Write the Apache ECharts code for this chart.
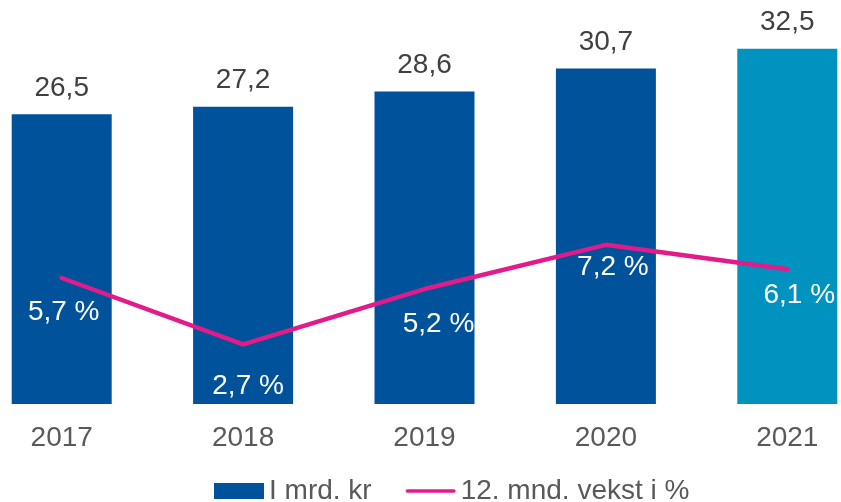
<!DOCTYPE html>
<html>
<head>
<meta charset="utf-8">
<script src="https://cdn.jsdelivr.net/npm/echarts@6/dist/echarts.min.js"></script>
<style>
  html, body { margin: 0; padding: 0; background: #fff; }
  #main { width: 841px; height: 502px; }
</style>
</head>
<body>
<div id="main"></div>
<script>
var years = ['2017', '2018', '2019', '2020', '2021'];
var belop = [26.5, 27.2, 28.6, 30.7, 32.5];      // I mrd. kr
var vekst = [5.7, 2.7, 5.2, 7.2, 6.1];           // 12. mnd. vekst i %

// label nudges for the % labels (px, relative to the point)
var vekstLabelShift = [[2, 34], [5, 42], [14, 35], [7, 22], [12, 26]];

var MORK = '#00529b';
var LYS = '#0093bf';
var ROSA = '#e31b8a';
var fnt = 'Liberation Sans, Arial, sans-serif';

function komma(v, suffix) {
    return String(v.toFixed(1)).replace('.', ',') + (suffix || '');
}

var myChart = echarts.init(document.getElementById('main'));

var option = {
    animation: false,
    textStyle: { fontFamily: fnt },
    grid: { left: -29, width: 907, top: 10.5, bottom: 98, containLabel: false, outerBoundsMode: 'none' },
    legend: {
        left: 209,
        top: 472,
        itemWidth: 50,
        itemHeight: 16,
        itemGap: 34,
        textStyle: { fontSize: 28, color: '#595959', fontFamily: fnt },
        data: [
            { name: 'I mrd. kr', icon: 'rect', itemStyle: { color: MORK } },
            { name: '12. mnd. vekst i %', icon: 'path://M2,0 H53 A2,2 0 0 1 53,4 H2 A2,2 0 0 1 2,0 Z' }
        ]
    },
    xAxis: {
        type: 'category',
        data: years,
        axisLine: { show: false },
        axisTick: { show: false },
        axisLabel: { fontSize: 28, color: '#595959', margin: 20, fontFamily: fnt }
    },
    yAxis: [
        { type: 'value', min: 0, max: 36, show: false },
        { type: 'value', min: 0, max: 17.8, show: false }
    ],
    series: [
        {
            name: 'I mrd. kr',
            type: 'bar',
            yAxisIndex: 0,
            barWidth: 100,
            itemStyle: { color: MORK },
            label: {
                show: true,
                position: 'top',
                distance: 12,
                fontSize: 28,
                color: '#404040',
                fontFamily: fnt,
                formatter: function (p) { return komma(p.value); }
            },
            data: belop.map(function (v, i) {
                return i === belop.length - 1 ? { value: v, itemStyle: { color: LYS } } : v;
            })
        },
        {
            name: '12. mnd. vekst i %',
            type: 'line',
            yAxisIndex: 1,
            symbol: 'circle',
            symbolSize: 0,
            lineStyle: { color: ROSA, width: 4.5, cap: 'round' },
            itemStyle: { color: ROSA },
            label: {
                show: true,
                position: 'inside',
                fontSize: 28,
                color: '#ffffff',
                fontFamily: fnt,
                formatter: function (p) { return komma(p.value, ' %'); }
            },
            data: vekst.map(function (v, i) {
                return { value: v, label: { offset: vekstLabelShift[i] } };
            })
        }
    ]
};

myChart.setOption(option);
</script>
</body>
</html>
